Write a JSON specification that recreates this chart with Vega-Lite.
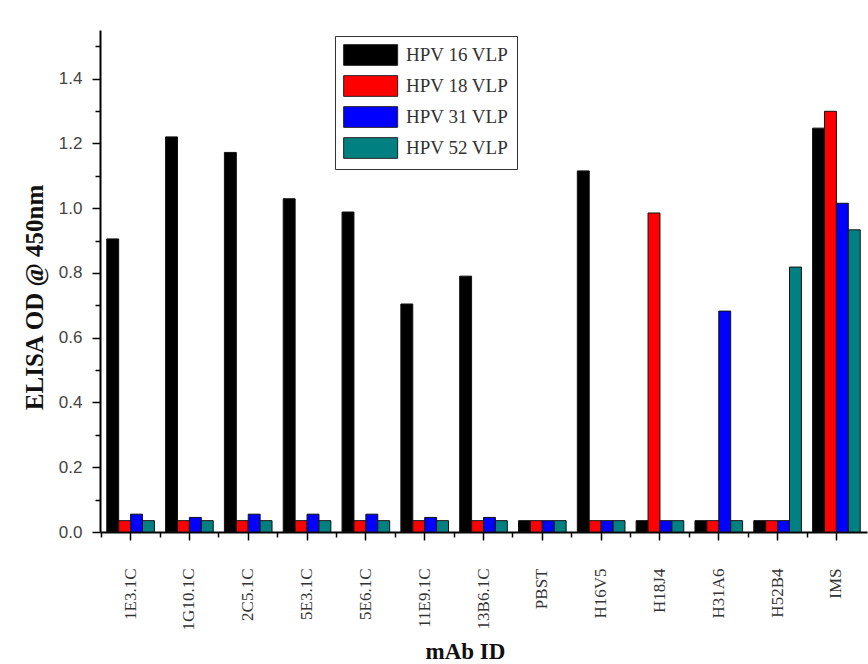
{
  "$schema": "https://vega.github.io/schema/vega-lite/v6.json",
  "width": 767,
  "height": 502,
  "autosize": {"type": "none"},
  "padding": {"left": 100, "top": 30, "right": 1, "bottom": 132},
  "background": "white",
  "config": {"view": {"stroke": null}},
  "data": {
    "values": [
      {"mAb": "1E3.1C", "VLP": "HPV 16 VLP", "OD": 0.905},
      {"mAb": "1E3.1C", "VLP": "HPV 18 VLP", "OD": 0.035},
      {"mAb": "1E3.1C", "VLP": "HPV 31 VLP", "OD": 0.055},
      {"mAb": "1E3.1C", "VLP": "HPV 52 VLP", "OD": 0.035},
      {"mAb": "1G10.1C", "VLP": "HPV 16 VLP", "OD": 1.22},
      {"mAb": "1G10.1C", "VLP": "HPV 18 VLP", "OD": 0.035},
      {"mAb": "1G10.1C", "VLP": "HPV 31 VLP", "OD": 0.045},
      {"mAb": "1G10.1C", "VLP": "HPV 52 VLP", "OD": 0.035},
      {"mAb": "2C5.1C", "VLP": "HPV 16 VLP", "OD": 1.172},
      {"mAb": "2C5.1C", "VLP": "HPV 18 VLP", "OD": 0.035},
      {"mAb": "2C5.1C", "VLP": "HPV 31 VLP", "OD": 0.055},
      {"mAb": "2C5.1C", "VLP": "HPV 52 VLP", "OD": 0.035},
      {"mAb": "5E3.1C", "VLP": "HPV 16 VLP", "OD": 1.029},
      {"mAb": "5E3.1C", "VLP": "HPV 18 VLP", "OD": 0.035},
      {"mAb": "5E3.1C", "VLP": "HPV 31 VLP", "OD": 0.055},
      {"mAb": "5E3.1C", "VLP": "HPV 52 VLP", "OD": 0.035},
      {"mAb": "5E6.1C", "VLP": "HPV 16 VLP", "OD": 0.988},
      {"mAb": "5E6.1C", "VLP": "HPV 18 VLP", "OD": 0.035},
      {"mAb": "5E6.1C", "VLP": "HPV 31 VLP", "OD": 0.055},
      {"mAb": "5E6.1C", "VLP": "HPV 52 VLP", "OD": 0.035},
      {"mAb": "11E9.1C", "VLP": "HPV 16 VLP", "OD": 0.704},
      {"mAb": "11E9.1C", "VLP": "HPV 18 VLP", "OD": 0.035},
      {"mAb": "11E9.1C", "VLP": "HPV 31 VLP", "OD": 0.045},
      {"mAb": "11E9.1C", "VLP": "HPV 52 VLP", "OD": 0.035},
      {"mAb": "13B6.1C", "VLP": "HPV 16 VLP", "OD": 0.79},
      {"mAb": "13B6.1C", "VLP": "HPV 18 VLP", "OD": 0.035},
      {"mAb": "13B6.1C", "VLP": "HPV 31 VLP", "OD": 0.045},
      {"mAb": "13B6.1C", "VLP": "HPV 52 VLP", "OD": 0.035},
      {"mAb": "PBST", "VLP": "HPV 16 VLP", "OD": 0.035},
      {"mAb": "PBST", "VLP": "HPV 18 VLP", "OD": 0.035},
      {"mAb": "PBST", "VLP": "HPV 31 VLP", "OD": 0.035},
      {"mAb": "PBST", "VLP": "HPV 52 VLP", "OD": 0.035},
      {"mAb": "H16V5", "VLP": "HPV 16 VLP", "OD": 1.115},
      {"mAb": "H16V5", "VLP": "HPV 18 VLP", "OD": 0.035},
      {"mAb": "H16V5", "VLP": "HPV 31 VLP", "OD": 0.035},
      {"mAb": "H16V5", "VLP": "HPV 52 VLP", "OD": 0.035},
      {"mAb": "H18J4", "VLP": "HPV 16 VLP", "OD": 0.035},
      {"mAb": "H18J4", "VLP": "HPV 18 VLP", "OD": 0.985},
      {"mAb": "H18J4", "VLP": "HPV 31 VLP", "OD": 0.035},
      {"mAb": "H18J4", "VLP": "HPV 52 VLP", "OD": 0.035},
      {"mAb": "H31A6", "VLP": "HPV 16 VLP", "OD": 0.035},
      {"mAb": "H31A6", "VLP": "HPV 18 VLP", "OD": 0.035},
      {"mAb": "H31A6", "VLP": "HPV 31 VLP", "OD": 0.682},
      {"mAb": "H31A6", "VLP": "HPV 52 VLP", "OD": 0.035},
      {"mAb": "H52B4", "VLP": "HPV 16 VLP", "OD": 0.035},
      {"mAb": "H52B4", "VLP": "HPV 18 VLP", "OD": 0.035},
      {"mAb": "H52B4", "VLP": "HPV 31 VLP", "OD": 0.035},
      {"mAb": "H52B4", "VLP": "HPV 52 VLP", "OD": 0.818},
      {"mAb": "IMS", "VLP": "HPV 16 VLP", "OD": 1.247},
      {"mAb": "IMS", "VLP": "HPV 18 VLP", "OD": 1.299},
      {"mAb": "IMS", "VLP": "HPV 31 VLP", "OD": 1.015},
      {"mAb": "IMS", "VLP": "HPV 52 VLP", "OD": 0.933}
    ]
  },
  "resolve": {"axis": {"x": "independent", "y": "independent"}},
  "layer": [
    {
      "mark": {"type": "bar", "stroke": "#111", "strokeWidth": 1},
      "encoding": {
        "x": {
          "field": "mAb", "type": "nominal", "sort": null,
          "scale": {"paddingInner": 0.19, "paddingOuter": 0.115},
          "axis": {
            "orient": "bottom",
            "title": "mAb ID",
            "titleFont": "Liberation Serif", "titleFontSize": 23, "titleFontWeight": "bold", "titleColor": "#111",
            "titleX": 365, "titleY": 119, "titleBaseline": "middle", "titleAlign": "center",
            "labelAngle": -90, "labelFont": "Liberation Serif", "labelFontSize": 17, "labelColor": "#333",
            "labelPadding": 28,
            "tickSize": 8, "tickColor": "#000", "tickWidth": 1.5,
            "domainColor": "#000", "domainWidth": 2
          }
        },
        "xOffset": {
          "field": "VLP", "type": "nominal",
          "scale": {"paddingInner": 0, "paddingOuter": 0}
        },
        "y": {
          "field": "OD", "type": "quantitative",
          "scale": {"domain": [0, 1.55], "nice": false, "zero": true},
          "axis": {
            "orient": "left",
            "title": "ELISA OD @ 450nm",
            "titleFont": "Liberation Serif", "titleFontSize": 25, "titleFontWeight": "bold", "titleColor": "#111",
            "titleX": -66, "titleY": 267, "titleBaseline": "middle", "titleAlign": "center", "titleAngle": -90,
            "values": [0, 0.2, 0.4, 0.6, 0.8, 1.0, 1.2, 1.4],
            "format": ".1f",
            "labelFont": "Liberation Sans", "labelFontSize": 17, "labelColor": "#444", "labelPadding": 10,
            "tickSize": 8, "tickColor": "#000", "tickWidth": 1.5,
            "domainColor": "#000", "domainWidth": 2, "grid": false
          }
        },
        "color": {
          "field": "VLP", "type": "nominal",
          "scale": {
            "domain": ["HPV 16 VLP", "HPV 18 VLP", "HPV 31 VLP", "HPV 52 VLP"],
            "range": ["#000000", "#ff0000", "#0000ff", "#008080"]
          },
          "legend": {
            "title": null,
            "orient": "none",
            "legendX": 235,
            "legendY": 6,
            "symbolType": "M-1,-1H4.22V1H-1Z",
            "symbolSize": 428,
            "symbolStrokeColor": "#222",
            "symbolStrokeWidth": 1,
            "symbolOpacity": 1,
            "labelFont": "Liberation Serif",
            "labelFontSize": 19,
            "labelColor": "#333",
            "labelOffset": 41,
            "rowPadding": 5,
            "padding": 8,
            "strokeColor": "#333",
            "fillColor": "white"
          }
        }
      }
    },
    {
      "mark": {"type": "point", "opacity": 0},
      "encoding": {
        "x": {
          "field": "mAb", "type": "nominal", "sort": null,
          "axis": {
            "orient": "bottom", "title": null, "labels": false, "domain": false,
            "bandPosition": -0.117, "tickSize": 5, "tickColor": "#000", "tickWidth": 1.5
          }
        },
        "y": {
          "field": "OD", "type": "quantitative",
          "axis": {
            "orient": "left", "title": null, "labels": false, "domain": false, "grid": false,
            "values": [0.1, 0.3, 0.5, 0.7, 0.9, 1.1, 1.3, 1.5],
            "tickSize": 5, "tickColor": "#000", "tickWidth": 1.5
          }
        }
      }
    }
  ]
}
